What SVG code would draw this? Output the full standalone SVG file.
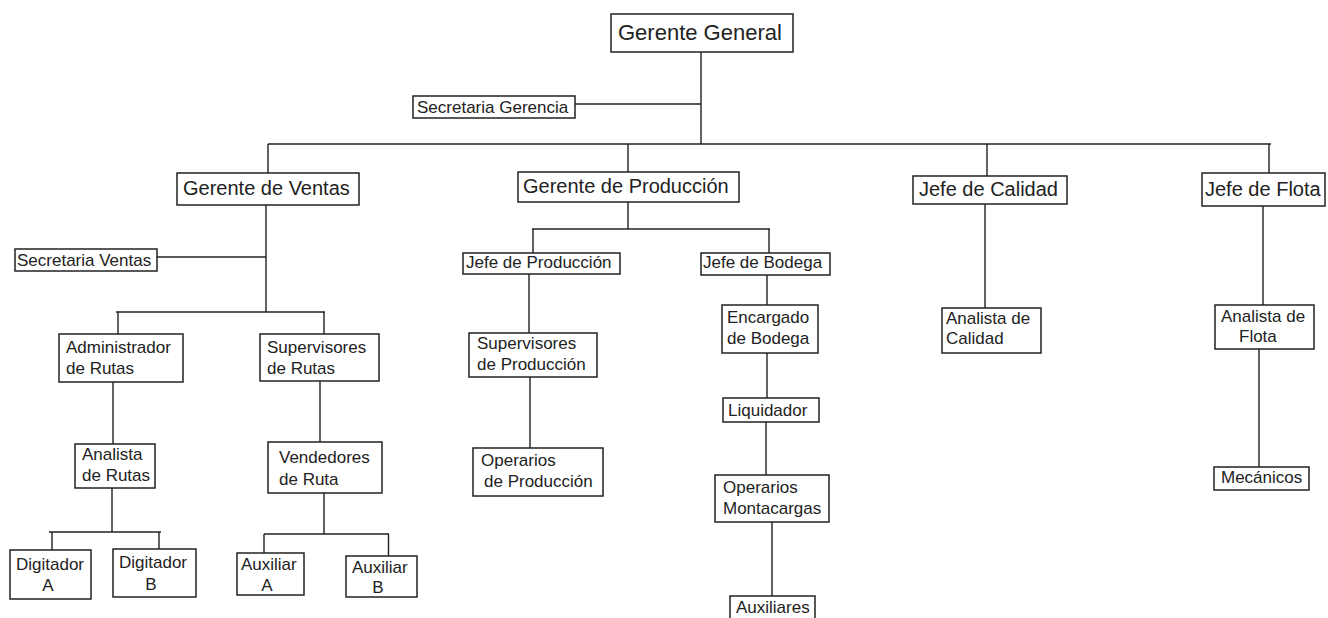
<svg xmlns="http://www.w3.org/2000/svg" width="1328" height="618" viewBox="0 0 1328 618">
<style>
.b{fill:#fff;stroke:#222;stroke-width:1.5}
.t{font-family:"Liberation Sans",Arial,sans-serif;fill:#222;font-size:17px}
.m{font-size:20px}
.c{text-anchor:middle}
#connectors line{stroke:#222;stroke-width:1.4}
</style>
<rect width="1328" height="618" fill="#fff"/>
<g id="connectors">
<line x1="701" y1="52" x2="701" y2="144"/>
<line x1="575" y1="104" x2="701" y2="104"/>
<line x1="268" y1="144" x2="1271" y2="144"/>
<line x1="268" y1="144" x2="268" y2="173"/>
<line x1="628" y1="144" x2="628" y2="172"/>
<line x1="987" y1="144" x2="987" y2="176"/>
<line x1="1269" y1="144" x2="1269" y2="173"/>
<line x1="266" y1="205" x2="266" y2="312"/>
<line x1="157" y1="257" x2="266" y2="257"/>
<line x1="116" y1="312" x2="325" y2="312"/>
<line x1="118" y1="312" x2="118" y2="334"/>
<line x1="324" y1="312" x2="324" y2="334"/>
<line x1="113" y1="382" x2="113" y2="444"/>
<line x1="320" y1="381" x2="320" y2="442"/>
<line x1="112" y1="488" x2="112" y2="532"/>
<line x1="49" y1="532" x2="161" y2="532"/>
<line x1="52" y1="532" x2="52" y2="550"/>
<line x1="159" y1="532" x2="159" y2="549"/>
<line x1="324" y1="493" x2="324" y2="534"/>
<line x1="264" y1="534" x2="389" y2="534"/>
<line x1="264" y1="534" x2="264" y2="553"/>
<line x1="388.5" y1="534" x2="388.5" y2="556"/>
<line x1="628" y1="202" x2="628" y2="229"/>
<line x1="532" y1="229" x2="770" y2="229"/>
<line x1="533" y1="229" x2="533" y2="253"/>
<line x1="769" y1="229" x2="769" y2="253"/>
<line x1="529" y1="274" x2="529" y2="333"/>
<line x1="530" y1="377" x2="530" y2="448"/>
<line x1="767" y1="275" x2="767" y2="305"/>
<line x1="767" y1="353" x2="767" y2="398"/>
<line x1="766" y1="422" x2="766" y2="475"/>
<line x1="772" y1="522" x2="772" y2="596"/>
<line x1="985" y1="204" x2="985" y2="308"/>
<line x1="1263" y1="206" x2="1263" y2="305"/>
<line x1="1259" y1="349" x2="1259" y2="467"/>
</g>
<g id="gerente-general"><rect class="b" x="611" y="14" width="182" height="38"/><text class="t" style="font-size:22px" x="618" y="40">Gerente General</text></g>
<g id="secretaria-gerencia"><rect class="b" x="413" y="96" width="162" height="22"/><text class="t" x="417" y="113">Secretaria Gerencia</text></g>
<g id="gerente-ventas"><rect class="b" x="177" y="173" width="182" height="32"/><text class="t m" x="183" y="195">Gerente de Ventas</text></g>
<g id="gerente-produccion"><rect class="b" x="518" y="172" width="221" height="30"/><text class="t m" x="523" y="193">Gerente de Producción</text></g>
<g id="jefe-calidad"><rect class="b" x="913" y="176" width="154" height="28"/><text class="t m" x="919" y="196">Jefe de Calidad</text></g>
<g id="jefe-flota"><rect class="b" x="1202" y="173" width="123" height="33"/><text class="t m" x="1205" y="196">Jefe de Flota</text></g>
<g id="secretaria-ventas"><rect class="b" x="15" y="249" width="142" height="22"/><text class="t" x="17" y="266">Secretaria Ventas</text></g>
<g id="jefe-produccion"><rect class="b" x="463" y="253" width="157" height="21"/><text class="t" x="466" y="268">Jefe de Producción</text></g>
<g id="jefe-bodega"><rect class="b" x="701" y="253" width="129" height="22"/><text class="t" x="703" y="268">Jefe de Bodega</text></g>
<g id="administrador-rutas"><rect class="b" x="59" y="334" width="124" height="48"/><text class="t" x="66" y="353">Administrador</text><text class="t" x="66" y="374">de Rutas</text></g>
<g id="supervisores-rutas"><rect class="b" x="260" y="334" width="119" height="47"/><text class="t" x="267" y="353">Supervisores</text><text class="t" x="267" y="374">de Rutas</text></g>
<g id="analista-rutas"><rect class="b" x="75" y="444" width="80" height="44"/><text class="t" x="82" y="460">Analista</text><text class="t" x="82" y="481">de Rutas</text></g>
<g id="vendedores-ruta"><rect class="b" x="268" y="442" width="114" height="51"/><text class="t" x="279" y="463">Vendedores</text><text class="t" x="279" y="485">de Ruta</text></g>
<g id="digitador-a"><rect class="b" x="10" y="550" width="81" height="49"/><text class="t" x="16" y="570">Digitador</text><text class="t c" x="48" y="591">A</text></g>
<g id="digitador-b"><rect class="b" x="113" y="549" width="83" height="48"/><text class="t" x="119" y="568">Digitador</text><text class="t c" x="151" y="590">B</text></g>
<g id="auxiliar-a"><rect class="b" x="237" y="553" width="67" height="42"/><text class="t" x="241" y="570">Auxiliar</text><text class="t c" x="267" y="591">A</text></g>
<g id="auxiliar-b"><rect class="b" x="346" y="556" width="71" height="41"/><text class="t" x="352" y="573">Auxiliar</text><text class="t c" x="378" y="593">B</text></g>
<g id="supervisores-produccion"><rect class="b" x="469" y="333" width="128" height="44"/><text class="t" x="477" y="349">Supervisores</text><text class="t" x="477" y="370">de Producción</text></g>
<g id="operarios-produccion"><rect class="b" x="473" y="448" width="130" height="48"/><text class="t" x="481" y="466">Operarios</text><text class="t" x="484" y="487">de Producción</text></g>
<g id="encargado-bodega"><rect class="b" x="722" y="305" width="96" height="48"/><text class="t" x="727" y="323">Encargado</text><text class="t" x="727" y="344">de Bodega</text></g>
<g id="liquidador"><rect class="b" x="723" y="398" width="96" height="24"/><text class="t" x="728" y="416">Liquidador</text></g>
<g id="operarios-montacargas"><rect class="b" x="715" y="475" width="114" height="47"/><text class="t" x="723" y="493">Operarios</text><text class="t" x="723" y="514">Montacargas</text></g>
<g id="auxiliares"><rect class="b" x="730" y="596" width="85" height="30"/><text class="t" x="736" y="613">Auxiliares</text></g>
<g id="analista-calidad"><rect class="b" x="942" y="308" width="99" height="45"/><text class="t" x="946" y="324">Analista de</text><text class="t" x="946" y="344">Calidad</text></g>
<g id="analista-flota"><rect class="b" x="1215" y="305" width="99" height="44"/><text class="t" x="1221" y="322">Analista de</text><text class="t" x="1239" y="342">Flota</text></g>
<g id="mecanicos"><rect class="b" x="1214" y="467" width="95" height="23"/><text class="t" x="1221" y="483">Mecánicos</text></g>
</svg>
